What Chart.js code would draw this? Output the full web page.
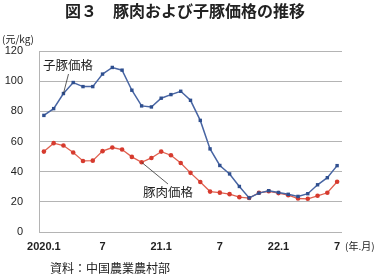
<!DOCTYPE html>
<html lang="ja">
<head>
<meta charset="UTF-8">
<title>図３ 豚肉および子豚価格の推移</title>
<script src="https://cdn.jsdelivr.net/npm/chart.js"></script>
<style>
    html, body { margin: 0; padding: 0; background: #fff; }
    #wrap { width: 378px; height: 276px; position: relative; }
</style>
</head>
<body>
<div id="wrap"><canvas id="chart" width="378" height="276"></canvas></div>
<script>
// 2020.1 〜 2022.7 月次
const months = [];
for (let y = 2020; y <= 2022; y++) {
    for (let m = 1; m <= 12; m++) {
        if (y === 2022 && m > 7) break;
        months.push(y + '.' + m);
    }
}
const tickLabels = ['2020.1', '7', '21.1', '7', '22.1', '7'];
const yTicks = [0, 20, 40, 60, 80, 100, 120];

// 子豚価格 (元/kg)
const pigletPrice = [77.3, 81.8, 91.8, 99.1, 96.4, 96.4, 104.7, 109.1, 107.3, 94.0, 83.6,
    82.9, 88.7, 91.1, 93.3, 87.3, 74.0, 55.1, 44.1, 38.5, 30.2, 22.6,
    25.8, 27.4, 26.2, 25.0, 23.6, 25.4, 31.3, 36.0, 44.0];
// 豚肉価格 (元/kg)
const porkPrice = [53.3, 58.9, 57.3, 52.7, 47.1, 47.3, 53.6, 56.0, 54.7, 49.8, 46.2,
    49.1, 53.3, 50.9, 45.7, 39.2, 33.1, 26.8, 26.1, 25.1, 23.1, 22.5,
    26.0, 27.0, 25.8, 24.4, 22.2, 22.0, 24.0, 26.0, 33.3];

const gridColor = '#b4b4b4';
const textColor = '#222';

// タイトル・単位・注記・資料
const decorations = {
    id: 'decorations',
    afterDraw(chart) {
        const ctx = chart.ctx;
        const x = chart.scales.x, y = chart.scales.y;
        ctx.save();
        ctx.fillStyle = textColor;
        ctx.textBaseline = 'middle';

        ctx.font = 'bold 16px "Noto Sans CJK JP"';
        ctx.textAlign = 'center';
        ctx.fillText('図３　豚肉および子豚価格の推移', 185, 11);

        ctx.font = '10px "Noto Sans CJK JP"';
        ctx.textAlign = 'left';
        ctx.fillText('(元/kg)', 2, 39);
        ctx.fillText('(年.月)', 345, 246);

        ctx.font = '12px "Noto Sans CJK JP"';
        ctx.textAlign = 'center';
        ctx.fillText('資料：中国農業農村部', 110, 268);

        ctx.font = '12.5px "Noto Sans CJK JP"';
        ctx.fillText('子豚価格', 68, 65);
        ctx.fillText('豚肉価格', 168, 192);

        // 引き出し線
        ctx.strokeStyle = '#333';
        ctx.lineWidth = 0.8;
        ctx.beginPath();
        ctx.moveTo(68.5, 74);
        ctx.lineTo(x.getPixelForValue(2), y.getPixelForValue(pigletPrice[2]));
        ctx.moveTo(x.getPixelForValue(10), y.getPixelForValue(porkPrice[10]));
        ctx.lineTo(168, 184);
        ctx.stroke();
        ctx.restore();
    }
};

new Chart(document.getElementById('chart'), {
    type: 'line',
    data: {
        labels: months,
        datasets: [{
            label: '子豚価格',
            data: pigletPrice,
            borderColor: '#4865a3',
            backgroundColor: '#2f4f8f',
            borderWidth: 1.5,
            pointStyle: 'rect',
            pointRadius: 2.4,
            pointBorderWidth: 0,
            tension: 0
        }, {
            label: '豚肉価格',
            data: porkPrice,
            borderColor: '#e0604f',
            backgroundColor: '#d63a2e',
            borderWidth: 1.3,
            pointStyle: 'circle',
            pointRadius: 2.3,
            pointBorderWidth: 0,
            tension: 0
        }]
    },
    options: {
        responsive: false,
        animation: false,
        layout: { padding: { top: 51, right: 36, left: 0, bottom: 0 } },
        plugins: {
            legend: { display: false },
            tooltip: { enabled: false }
        },
        scales: {
            x: {
                offset: true,
                grid: { display: false, drawTicks: false },
                border: { display: false },
                afterFit(scale) { scale.height = 44; },
                ticks: {
                    autoSkip: false,
                    maxRotation: 0,
                    padding: 8,
                    color: textColor,
                    font: { family: 'Liberation Sans', size: 11, weight: 'bold' },
                    callback: (v, i) => (i % 6 === 0 ? tickLabels[i / 6] : '')
                }
            },
            y: {
                min: 0,
                max: 120,
                afterFit(scale) { scale.width = 39; },
                afterBuildTicks(scale) { scale.ticks = yTicks.map(v => ({ value: v })); },
                grid: { color: gridColor, lineWidth: 1, drawTicks: false },
                border: { display: true, color: gridColor, width: 1 },
                ticks: {
                    padding: 16,
                    color: textColor,
                    font: { family: 'Liberation Sans', size: 11 }
                }
            }
        }
    },
    plugins: [decorations]
});
</script>
</body>
</html>
